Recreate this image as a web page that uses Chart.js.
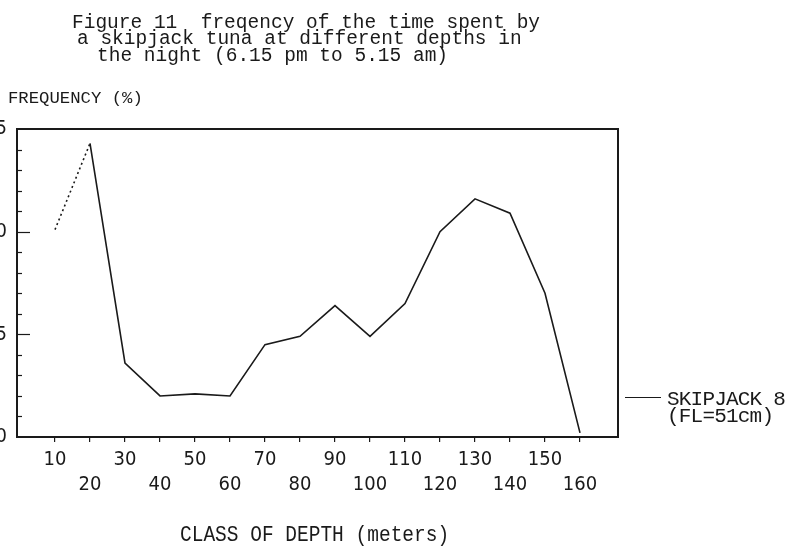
<!DOCTYPE html>
<html>
<head>
<meta charset="utf-8">
<script src="https://cdn.jsdelivr.net/npm/chart.js@4.4.1/dist/chart.umd.min.js"></script>
<style>
  html, body { margin:0; padding:0; background:#fff; }
  #wrap { position:absolute; left:0; top:0; width:791px; height:551px; overflow:hidden; background:#fff; }
  #c { position:absolute; left:-40px; top:0; }
  .t { position:absolute; color:#1a1a1a; font-family:'Liberation Mono','DejaVu Sans Mono',monospace; white-space:pre; transform-origin:0 0; }
  .tl { font-size:19.5px; line-height:16.5px; }
  #ylab { left:8px; top:90px; font-size:17.3px; line-height:17.3px; }
  #xlab { left:180px; top:526px; font-size:19.5px; line-height:19.5px; transform:scaleY(1.1); }
  #leg { left:625px; top:391px; font-size:21px; line-height:17px; letter-spacing:-0.8px; }
  #legline { position:absolute; left:0; top:6px; width:36px; border-top:1.5px solid #1a1a1a; }
  #legtxt { position:absolute; left:42px; top:0; }
</style>
</head>
<body>
<div id="wrap">
  <canvas id="c" width="831" height="551"></canvas>
  <div class="t tl" style="left:72px; top:14.5px;">Figure 11  freqency of the time spent by</div>
  <div class="t tl" style="left:77px; top:31px;">a skipjack tuna at different depths in</div>
  <div class="t tl" style="left:97px; top:47.5px;">the night (6.15 pm to 5.15 am)</div>
  <div class="t" id="ylab">FREQUENCY (%)</div>
  <div class="t" id="xlab">CLASS OF DEPTH (meters)</div>
  <div class="t" id="leg"><div id="legline"></div><div id="legtxt">SKIPJACK 8
(FL=51cm)</div></div>
</div>
<script>
// ---- data ----
const depthClasses = [10, 20, 30, 40, 50, 60, 70, 80, 90, 100, 110, 120, 130, 140, 150, 160];
const frequency    = [10.1, 14.3, 3.6, 2.0, 2.1, 2.0, 4.5, 4.9, 6.4, 4.9, 6.5, 10.0, 11.6, 10.9, 7.0, 0.2];
const xTickLabels  = ['10','20','30','40','50','60','70','80','90','100','110','120','130','140','150','160'];
const yTickValues  = [0, 5, 10, 15];
const yTickLabels  = ['0', '5', '10', '15'];
const seriesName   = 'SKIPJACK 8 (FL=51cm)';

const TICKFONT = "'DejaVu Sans Condensed','Liberation Sans Narrow','DejaVu Sans',sans-serif";
const INK = '#1a1a1a';

const framePlugin = {
  id: 'frame',
  afterDraw(chart) {
    const ctx = chart.ctx, a = chart.chartArea;
    const y = chart.scales.y;
    ctx.save();
    ctx.strokeStyle = INK; ctx.lineWidth = 2;
    ctx.strokeRect(a.left, a.top, a.right - a.left, a.bottom - a.top);
    ctx.lineWidth = 1.2;
    for (let v = 1; v < 15; v++) {
      const py = Math.round(y.getPixelForValue(v)) + 0.5;
      const len = (v % 5 === 0) ? 13 : 5;
      ctx.beginPath(); ctx.moveTo(a.left, py); ctx.lineTo(a.left + len, py); ctx.stroke();
    }
    ctx.restore();
  }
};

new Chart(document.getElementById('c'), {
  type: 'line',
  data: {
    datasets: [{
      label: seriesName,
      data: depthClasses.map((d, i) => ({ x: d, y: frequency[i] })),
      borderColor: INK,
      borderWidth: 1.6,
      pointRadius: 0,
      tension: 0,
      fill: false,
      segment: {
        borderDash: ctx => ctx.p0DataIndex === 0 ? [2, 3] : undefined
      }
    }]
  },
  options: {
    responsive: false,
    animation: false,
    devicePixelRatio: 1,
    layout: { padding: { top: 129, right: 173, left: 0, bottom: 0 } },
    plugins: { legend: { display: false }, tooltip: { enabled: false }, title: { display: false } },
    scales: {
      x: {
        type: 'linear',
        position: 'bottom',
        min: 10 - 380 / 35,
        max: 160 + 380 / 35,
        afterBuildTicks: s => { s.ticks = depthClasses.map(v => ({ value: v })); },
        afterFit: s => { s.height = 114; },
        border: { display: false },
        grid: { drawOnChartArea: false, drawTicks: true, tickLength: 5, color: INK, lineWidth: 1.2 },
        ticks: {
          color: INK,
          padding: 5,
          maxRotation: 0,
          autoSkip: false,
          font: { family: TICKFONT, size: 20, lineHeight: 1.27 },
          callback: (value, index) => index % 2 === 0 ? [xTickLabels[index], ''] : ['', xTickLabels[index]]
        }
      },
      y: {
        type: 'linear',
        min: 0,
        max: 15,
        afterBuildTicks: s => { s.ticks = yTickValues.map(v => ({ value: v })); },
        afterFit: s => { s.width = 57; },
        border: { display: false },
        grid: { display: false, drawTicks: false },
        ticks: {
          color: INK, padding: 10, font: { size: 20, family: TICKFONT },
          callback: (value, index) => yTickLabels[index]
        }
      }
    }
  },
  plugins: [framePlugin]
});
</script>
</body>
</html>
